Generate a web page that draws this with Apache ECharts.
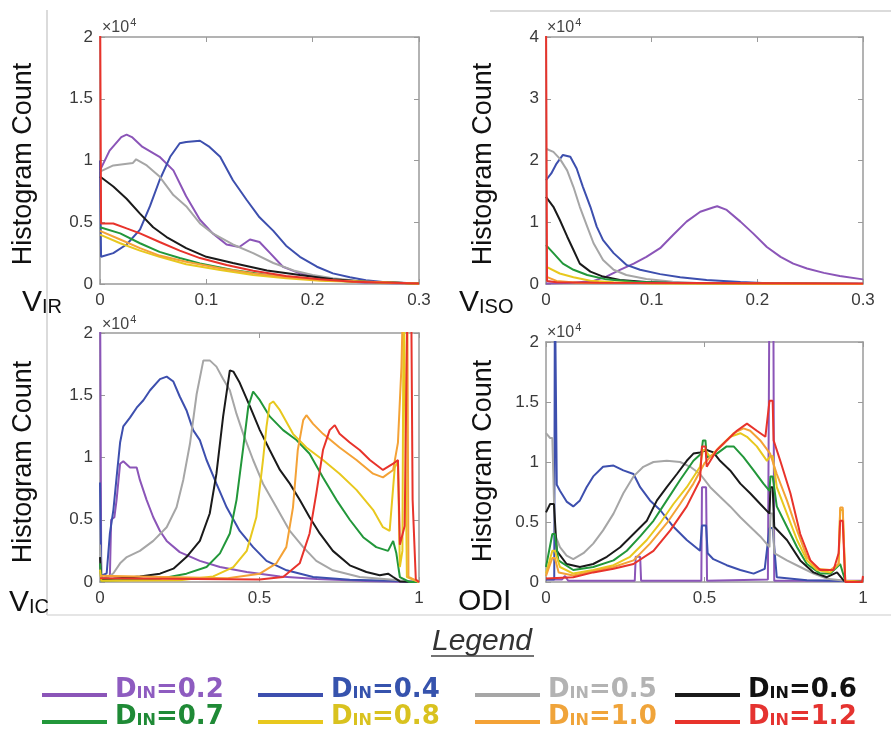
<!DOCTYPE html>
<html>
<head>
<meta charset="utf-8">
<script src="https://cdn.jsdelivr.net/npm/echarts@6/dist/echarts.min.js"></script>
<style>
html, body { margin: 0; padding: 0; background: #fff; }
#chart { width: 891px; height: 737px; }
</style>
</head>
<body>
<div id="chart"></div>
<script>
// series names (D_IN values) and colours
var names = ['0.2', '0.4', '0.5', '0.6', '0.7', '0.8', '1.0', '1.2'];
var lineColors = ['#8b55b8', '#3d4fae', '#a6a6a6', '#1a1a1a', '#22973a', '#e8c81e', '#f4a236', '#e8332b'];
var textColors = ['#8e5cc0', '#3653ad', '#b3b3b3', '#111111', '#1f8a36', '#d9c21f', '#f0a43a', '#e53330'];

// V_IR histogram counts (x1e4)
var virD02 = [[0,0.92],[0.009,1.08],[0.02,1.19],[0.025,1.21],[0.03,1.19],[0.04,1.11],[0.056,1.03],[0.069,0.92],[0.081,0.71],[0.094,0.52],[0.106,0.41],[0.119,0.32],[0.131,0.3],[0.141,0.36],[0.15,0.34],[0.16,0.25],[0.172,0.14],[0.188,0.086],[0.204,0.054],[0.219,0.03],[0.25,0.01],[0.3,0.003]];
var virD04 = [[0,1.0],[0.001,0.22],[0.0125,0.25],[0.025,0.32],[0.0376,0.44],[0.047,0.63],[0.056,0.84],[0.066,1.03],[0.075,1.14],[0.081,1.15],[0.094,1.16],[0.103,1.11],[0.113,1.03],[0.125,0.84],[0.138,0.68],[0.15,0.54],[0.163,0.43],[0.175,0.31],[0.188,0.22],[0.204,0.14],[0.219,0.086],[0.235,0.054],[0.25,0.03],[0.266,0.016],[0.3,0.005]];
var virD05 = [[0,0.91],[0.0125,0.96],[0.031,0.98],[0.034,1.01],[0.044,0.96],[0.056,0.87],[0.069,0.72],[0.081,0.63],[0.094,0.49],[0.106,0.41],[0.125,0.32],[0.144,0.25],[0.163,0.17],[0.182,0.11],[0.2,0.073],[0.219,0.046],[0.25,0.019],[0.3,0.004]];
var virD06 = [[0,0.87],[0.0125,0.79],[0.025,0.69],[0.0376,0.57],[0.05,0.46],[0.0626,0.38],[0.081,0.29],[0.1,0.22],[0.125,0.17],[0.157,0.11],[0.188,0.073],[0.219,0.038],[0.25,0.019],[0.3,0.004]];
var virD07 = [[0,0.46],[0.019,0.41],[0.0376,0.33],[0.056,0.26],[0.075,0.21],[0.094,0.167],[0.125,0.113],[0.157,0.073],[0.188,0.046],[0.219,0.027],[0.3,0.004]];
var virD08 = [[0,0.4],[0.019,0.33],[0.0376,0.27],[0.056,0.22],[0.081,0.16],[0.113,0.113],[0.144,0.073],[0.175,0.046],[0.207,0.027],[0.3,0.003]];
var virD10 = [[0,0.43],[0.019,0.36],[0.0376,0.29],[0.056,0.23],[0.081,0.18],[0.113,0.127],[0.144,0.086],[0.175,0.054],[0.207,0.032],[0.3,0.004]];
var virD12 = [[0,2.5],[0.001,0.49],[0.0125,0.49],[0.025,0.45],[0.0376,0.41],[0.056,0.34],[0.075,0.27],[0.094,0.21],[0.119,0.154],[0.144,0.108],[0.175,0.065],[0.207,0.038],[0.238,0.019],[0.3,0.004]];

// V_ISO histogram counts (x1e4)
var visoD02 = [[0,0.01],[0.026,0.02],[0.045,0.05],[0.057,0.12],[0.07,0.23],[0.083,0.33],[0.095,0.44],[0.108,0.58],[0.12,0.79],[0.133,1.01],[0.146,1.17],[0.158,1.24],[0.162,1.26],[0.171,1.2],[0.184,1.01],[0.196,0.82],[0.209,0.6],[0.222,0.44],[0.234,0.33],[0.247,0.25],[0.263,0.18],[0.278,0.13],[0.3,0.075]];
var visoD04 = [[0,1.68],[0.005,1.79],[0.01,1.95],[0.016,2.09],[0.023,2.06],[0.029,1.87],[0.035,1.57],[0.042,1.25],[0.048,0.93],[0.054,0.71],[0.064,0.5],[0.076,0.31],[0.089,0.23],[0.108,0.16],[0.127,0.11],[0.152,0.065],[0.184,0.032],[0.215,0.01],[0.3,0.005]];
var visoD05 = [[0,2.19],[0.007,2.14],[0.013,2.03],[0.02,1.84],[0.026,1.57],[0.032,1.25],[0.039,0.93],[0.045,0.66],[0.054,0.39],[0.064,0.23],[0.076,0.146],[0.095,0.081],[0.12,0.038],[0.152,0.01],[0.3,0.003]];
var visoD06 = [[0,1.41],[0.007,1.25],[0.013,1.04],[0.02,0.77],[0.026,0.55],[0.032,0.33],[0.042,0.2],[0.054,0.12],[0.07,0.065],[0.095,0.032],[0.12,0.016],[0.3,0.002]];
var visoD07 = [[0,0.63],[0.007,0.5],[0.016,0.33],[0.026,0.23],[0.039,0.146],[0.057,0.075],[0.083,0.038],[0.12,0.016],[0.3,0.002]];
var visoD08 = [[0,0.28],[0.013,0.17],[0.026,0.11],[0.042,0.054],[0.064,0.027],[0.1,0.01],[0.3,0.002]];
var visoD10 = [[0,0.12],[0.01,0.05],[0.03,0.02],[0.3,0.002]];
var visoD12 = [[0,4.5],[0.001,0.05],[0.01,0.03],[0.05,0.02],[0.3,0.01]];

// V_IC histogram counts (x1e4)
var vicD02 = [[0,2.5],[0.004,0.02],[0.031,0.05],[0.035,0.5],[0.045,0.52],[0.052,0.66],[0.063,0.95],[0.073,0.97],[0.094,0.92],[0.115,0.92],[0.125,0.82],[0.146,0.66],[0.167,0.52],[0.188,0.41],[0.209,0.33],[0.25,0.24],[0.313,0.17],[0.376,0.12],[0.46,0.08],[0.564,0.045],[0.68,0.024],[0.835,0.008],[0.94,0.003],[1,0]];
var vicD04 = [[0,0.8],[0.004,0.05],[0.021,0.07],[0.031,0.39],[0.042,0.58],[0.052,0.84],[0.063,1.12],[0.073,1.25],[0.094,1.32],[0.115,1.4],[0.136,1.46],[0.157,1.54],[0.188,1.63],[0.209,1.65],[0.23,1.61],[0.25,1.49],[0.271,1.38],[0.292,1.22],[0.313,1.14],[0.334,0.98],[0.365,0.79],[0.397,0.6],[0.438,0.41],[0.48,0.28],[0.522,0.17],[0.585,0.094],[0.668,0.04],[0.783,0.019],[0.94,0.008],[1,0]];
var vicD05 = [[0,0.3],[0.004,0.03],[0.021,0.03],[0.042,0.07],[0.063,0.15],[0.084,0.2],[0.125,0.25],[0.167,0.33],[0.209,0.44],[0.24,0.6],[0.261,0.82],[0.282,1.11],[0.303,1.51],[0.324,1.78],[0.344,1.78],[0.365,1.73],[0.386,1.63],[0.407,1.54],[0.428,1.35],[0.449,1.19],[0.48,0.98],[0.511,0.79],[0.553,0.6],[0.595,0.41],[0.637,0.28],[0.678,0.17],[0.73,0.094],[0.814,0.04],[0.919,0.019],[0.97,0.005],[1,0]];
var vicD06 = [[0,0.2],[0.004,0.02],[0.042,0.027],[0.125,0.045],[0.188,0.067],[0.23,0.107],[0.271,0.2],[0.313,0.33],[0.344,0.55],[0.365,0.87],[0.386,1.33],[0.407,1.7],[0.418,1.69],[0.438,1.6],[0.47,1.41],[0.501,1.22],[0.532,1.06],[0.564,0.9],[0.595,0.79],[0.626,0.66],[0.657,0.52],[0.689,0.39],[0.73,0.25],[0.783,0.134],[0.835,0.08],[0.877,0.054],[0.903,0.067],[0.919,0.04],[0.94,0.005],[1,0]];
var vicD07 = [[0,0.15],[0.004,0.01],[0.188,0.027],[0.271,0.067],[0.334,0.12],[0.376,0.23],[0.407,0.39],[0.428,0.66],[0.449,1.08],[0.465,1.41],[0.48,1.53],[0.501,1.46],[0.532,1.33],[0.574,1.22],[0.616,1.14],[0.657,1.03],[0.699,0.84],[0.741,0.66],[0.783,0.5],[0.825,0.36],[0.866,0.28],[0.903,0.25],[0.919,0.33],[0.929,0.23],[0.94,0.04],[0.97,0],[1,0]];
var vicD08 = [[0,0.1],[0.004,0.01],[0.25,0.015],[0.355,0.045],[0.418,0.12],[0.46,0.25],[0.49,0.52],[0.511,0.98],[0.522,1.25],[0.532,1.43],[0.543,1.45],[0.564,1.38],[0.605,1.19],[0.647,1.08],[0.699,0.98],[0.751,0.87],[0.804,0.74],[0.856,0.58],[0.887,0.44],[0.908,0.41],[0.924,0.92],[0.934,0.97],[0.94,0.12],[0.948,0.25],[0.952,2.5],[0.958,2.5],[0.962,0.04],[1,0]];
var vicD10 = [[0,0.05],[0.4,0.03],[0.501,0.067],[0.553,0.15],[0.584,0.28],[0.605,0.6],[0.62,1.06],[0.637,1.3],[0.647,1.34],[0.668,1.27],[0.699,1.19],[0.751,1.08],[0.804,0.98],[0.856,0.87],[0.887,0.84],[0.919,0.9],[0.934,1.12],[0.945,1.73],[0.952,2.5],[0.963,2.5],[0.967,0.04],[1,0]];
var vicD12 = [[0,0.03],[0.5,0.02],[0.574,0.04],[0.626,0.15],[0.657,0.39],[0.678,0.71],[0.699,1.06],[0.72,1.22],[0.736,1.26],[0.751,1.19],[0.783,1.12],[0.814,1.06],[0.846,0.98],[0.887,0.9],[0.919,0.95],[0.934,0.98],[0.94,0.3],[0.955,0.45],[0.965,2.5],[0.975,2.5],[0.98,0.66],[0.99,0.02],[1,0]];

// ODI histogram counts (x1e4)
var odiD02 = [[0,0.02],[0.05,0.02],[0.06,0.05],[0.07,0.01],[0.28,0.01],[0.283,0.21],[0.297,0.21],[0.3,0.01],[0.49,0.01],[0.492,0.79],[0.505,0.79],[0.508,0.01],[0.7,0.02],[0.705,2.5],[0.717,2.5],[0.72,0.01],[1,0.01]];
var odiD04 = [[0,0.02],[0.026,0.02],[0.028,2.5],[0.032,2.5],[0.034,0.81],[0.044,0.76],[0.065,0.67],[0.086,0.63],[0.107,0.68],[0.128,0.79],[0.149,0.88],[0.18,0.96],[0.213,0.97],[0.244,0.93],[0.276,0.9],[0.297,0.79],[0.328,0.68],[0.36,0.6],[0.402,0.46],[0.444,0.35],[0.486,0.26],[0.492,0.47],[0.505,0.47],[0.51,0.24],[0.528,0.19],[0.57,0.14],[0.613,0.1],[0.655,0.07],[0.69,0.11],[0.705,0.45],[0.715,0.45],[0.728,0.04],[0.823,0.014],[0.944,0.008],[1,0]];
var odiD05 = [[0,1.24],[0.013,1.2],[0.02,1.2],[0.028,0.4],[0.044,0.29],[0.065,0.22],[0.086,0.19],[0.118,0.24],[0.149,0.32],[0.18,0.43],[0.213,0.57],[0.244,0.74],[0.276,0.88],[0.307,0.96],[0.339,1.0],[0.381,1.01],[0.423,1.0],[0.455,0.96],[0.486,0.9],[0.518,0.79],[0.549,0.71],[0.581,0.63],[0.613,0.54],[0.644,0.46],[0.676,0.38],[0.705,0.29],[0.708,0.57],[0.715,0.57],[0.72,0.24],[0.76,0.18],[0.802,0.125],[0.844,0.07],[0.886,0.028],[0.944,0.01],[1,0]];
var odiD06 = [[0,0.58],[0.013,0.65],[0.025,0.65],[0.034,0.26],[0.065,0.15],[0.107,0.125],[0.149,0.15],[0.192,0.21],[0.234,0.29],[0.276,0.4],[0.318,0.51],[0.35,0.68],[0.381,0.79],[0.413,0.9],[0.444,1.01],[0.465,1.07],[0.486,1.08],[0.507,1.1],[0.528,1.08],[0.549,1.01],[0.581,0.93],[0.613,0.82],[0.644,0.74],[0.676,0.65],[0.705,0.57],[0.708,0.79],[0.715,0.79],[0.72,0.46],[0.76,0.35],[0.802,0.18],[0.844,0.08],[0.886,0.04],[0.918,0.08],[0.94,0.01],[1,0]];
var odiD07 = [[0,0.125],[0.02,0.4],[0.028,0.4],[0.039,0.18],[0.086,0.1],[0.149,0.125],[0.213,0.18],[0.255,0.26],[0.297,0.38],[0.339,0.51],[0.381,0.68],[0.423,0.85],[0.465,1.01],[0.49,1.07],[0.495,1.18],[0.503,1.18],[0.507,1.04],[0.539,1.07],[0.57,1.13],[0.592,1.13],[0.623,1.04],[0.655,0.93],[0.686,0.82],[0.705,0.76],[0.708,0.88],[0.715,0.88],[0.728,0.63],[0.76,0.46],[0.792,0.29],[0.823,0.15],[0.865,0.07],[0.897,0.07],[0.928,0.15],[0.944,0.01],[1,0]];
var odiD08 = [[0,0.07],[0.02,0.26],[0.028,0.26],[0.044,0.125],[0.086,0.07],[0.149,0.1],[0.213,0.14],[0.265,0.21],[0.318,0.35],[0.36,0.49],[0.402,0.65],[0.444,0.79],[0.486,0.96],[0.495,1.1],[0.503,1.1],[0.518,1.04],[0.549,1.13],[0.581,1.21],[0.613,1.24],[0.634,1.21],[0.665,1.13],[0.697,1.01],[0.708,1.05],[0.715,1.05],[0.728,0.79],[0.76,0.57],[0.792,0.35],[0.823,0.18],[0.855,0.1],[0.897,0.08],[0.923,0.15],[0.928,0.6],[0.936,0.6],[0.944,0.01],[1,0]];
var odiD10 = [[0,0.05],[0.02,0.2],[0.028,0.2],[0.04,0.08],[0.086,0.055],[0.149,0.09],[0.213,0.125],[0.276,0.18],[0.328,0.32],[0.381,0.49],[0.423,0.65],[0.465,0.82],[0.5,0.99],[0.528,1.07],[0.56,1.15],[0.592,1.24],[0.623,1.28],[0.644,1.26],[0.676,1.18],[0.707,1.07],[0.728,0.9],[0.76,0.68],[0.792,0.43],[0.823,0.21],[0.855,0.11],[0.897,0.1],[0.923,0.15],[0.928,0.62],[0.936,0.62],[0.944,0.01],[1,0]];
var odiD12 = [[0,0.03],[0.086,0.04],[0.149,0.08],[0.213,0.11],[0.276,0.15],[0.339,0.26],[0.392,0.43],[0.444,0.63],[0.486,0.85],[0.492,1.13],[0.503,1.13],[0.507,0.96],[0.539,1.1],[0.57,1.18],[0.602,1.26],[0.634,1.32],[0.665,1.26],[0.692,1.21],[0.705,1.51],[0.715,1.51],[0.718,1.18],[0.739,1.01],[0.771,0.74],[0.802,0.4],[0.834,0.18],[0.865,0.1],[0.907,0.1],[0.923,0.24],[0.928,0.51],[0.936,0.51],[0.944,0],[0.997,0],[1,0.05]];

var font = "'Liberation Sans', Arial, sans-serif";

var panels = [
	{ grid: { left: 100, top: 37, width: 319, height: 247 }, xMax: 0.3, xStep: 0.1, yMax: 2, yStep: 0.5,
	  data: [virD02, virD04, virD05, virD06, virD07, virD08, virD10, virD12] },
	{ grid: { left: 546, top: 37, width: 317, height: 247 }, xMax: 0.3, xStep: 0.1, yMax: 4, yStep: 1,
	  data: [visoD02, visoD04, visoD05, visoD06, visoD07, visoD08, visoD10, visoD12] },
	{ grid: { left: 100, top: 333, width: 319, height: 249 }, xMax: 1, xStep: 0.5, yMax: 2, yStep: 0.5,
	  data: [vicD02, vicD04, vicD05, vicD06, vicD07, vicD08, vicD10, vicD12] },
	{ grid: { left: 546, top: 342, width: 317, height: 240 }, xMax: 1, xStep: 0.5, yMax: 2, yStep: 0.5,
	  data: [odiD02, odiD04, odiD05, odiD06, odiD07, odiD08, odiD10, odiD12] }
];

var grids = [], xAxes = [], yAxes = [], series = [];
var boxLine = { lineStyle: { color: '#9a9a9a', width: 1.5 }, onZero: false };
var tick = { inside: true, length: 5, lineStyle: { color: '#9a9a9a', width: 1 } };
var label = { color: '#3a3a3a', fontSize: 17, fontFamily: font };

panels.forEach(function (p, i) {
	grids.push(p.grid);
	['bottom', 'top'].forEach(function (pos) {
		xAxes.push({
			gridIndex: i, type: 'value', position: pos, min: 0, max: p.xMax, interval: p.xStep,
			axisLine: boxLine, axisTick: tick, splitLine: { show: false },
			axisLabel: pos == 'bottom' ? Object.assign({ margin: 8 }, label) : { show: false }
		});
	});
	['left', 'right'].forEach(function (pos) {
		yAxes.push({
			gridIndex: i, type: 'value', position: pos, min: 0, max: p.yMax, interval: p.yStep,
			axisLine: boxLine, axisTick: tick, splitLine: { show: false },
			axisLabel: pos == 'left' ? Object.assign({ margin: 7 }, label) : { show: false }
		});
	});
	p.data.forEach(function (d, k) {
		series.push({
			type: 'line', name: names[k], xAxisIndex: i * 2, yAxisIndex: i * 2,
			data: d, symbol: 'none', color: lineColors[k],
			lineStyle: { width: 2, color: lineColors[k] }
		});
	});
});

// one legend per entry so the columns line up like the figure
var legendCols = [42, 258, 475, 675];
var legendRows = [677, 704];
var legends = names.map(function (n, k) {
	return {
		left: legendCols[k % 4], top: legendRows[Math.floor(k / 4)], padding: 0,
		itemWidth: 65, itemHeight: 4, icon: 'rect', selectedMode: false,
		data: [{ name: n, textStyle: { color: textColors[k] } }],
		formatter: function (name) { return '{d|D}{s|IN}{d|=' + name + '}'; },
		textStyle: {
			color: textColors[k], padding: [0, 0, 10, 3],
			rich: {
				d: { fontSize: 26, fontWeight: 'bold', fontFamily: "'DejaVu Sans', sans-serif", verticalAlign: 'bottom', color: textColors[k] },
				s: { fontSize: 16, fontWeight: 'bold', fontFamily: "'DejaVu Sans', sans-serif", verticalAlign: 'bottom', color: textColors[k], padding: [0, 0, 1, 0] }
			}
		}
	};
});

function ylabel(x, y) {
	return { type: 'text', x: x, y: y, rotation: Math.PI / 2,
		style: { text: 'Histogram Count', fontSize: 27, fontFamily: font, fill: '#111', align: 'center', verticalAlign: 'middle' } };
}
function varlabel(x, y, main, sub) {
	return { type: 'text', x: x, y: y,
		style: { text: '{v|' + main + '}' + (sub ? '{s|' + sub + '}' : ''), fill: '#111', verticalAlign: 'bottom',
			rich: { v: { fontSize: 30, fontFamily: font, fill: '#111', verticalAlign: 'bottom' },
			        s: { fontSize: 20, fontFamily: font, fill: '#111', verticalAlign: 'bottom', padding: [0, 0, 1, 0] } } } };
}
function expLabel(x, y) {
	return { type: 'text', x: x, y: y,
		style: { text: '{a|×10}{b|4}', verticalAlign: 'bottom',
			rich: { a: { fontSize: 16, fontFamily: font, fill: '#444', verticalAlign: 'bottom' },
			        b: { fontSize: 11, fontFamily: font, fill: '#444', verticalAlign: 'bottom', padding: [0, 0, 8, 1] } } } };
}

var graphics = [
	{ type: 'line', shape: { x1: 47, y1: 10, x2: 47, y2: 615 }, style: { stroke: '#cfcfcf', lineWidth: 1.5 } },
	{ type: 'line', shape: { x1: 490, y1: 11, x2: 891, y2: 11 }, style: { stroke: '#cfcfcf', lineWidth: 1.5 } },
	{ type: 'line', shape: { x1: 47, y1: 615, x2: 891, y2: 615 }, style: { stroke: '#dcdcdc', lineWidth: 1.5 } },
	ylabel(24, 164), ylabel(484, 164), ylabel(24, 462), ylabel(484, 461),
	varlabel(22, 318, 'V', 'IR'), varlabel(459, 318, 'V', 'ISO'),
	varlabel(9, 618, 'V', 'IC'), varlabel(458, 617, 'ODI', ''),
	expLabel(102, 36), expLabel(547, 36), expLabel(102, 333), expLabel(547, 341),
	{ type: 'text', x: 482, y: 642, style: { text: 'Legend', fontSize: 30, fontStyle: 'italic', fontFamily: font, fill: '#333', align: 'center', verticalAlign: 'middle' } },
	{ type: 'line', shape: { x1: 431, y1: 656, x2: 534, y2: 656 }, style: { stroke: '#444', lineWidth: 1.5 } }
];

var chart = echarts.init(document.getElementById('chart'));
chart.setOption({
	animation: false,
	grid: grids,
	xAxis: xAxes,
	yAxis: yAxes,
	legend: legends,
	series: series,
	graphic: graphics
});
</script>
</body>
</html>
